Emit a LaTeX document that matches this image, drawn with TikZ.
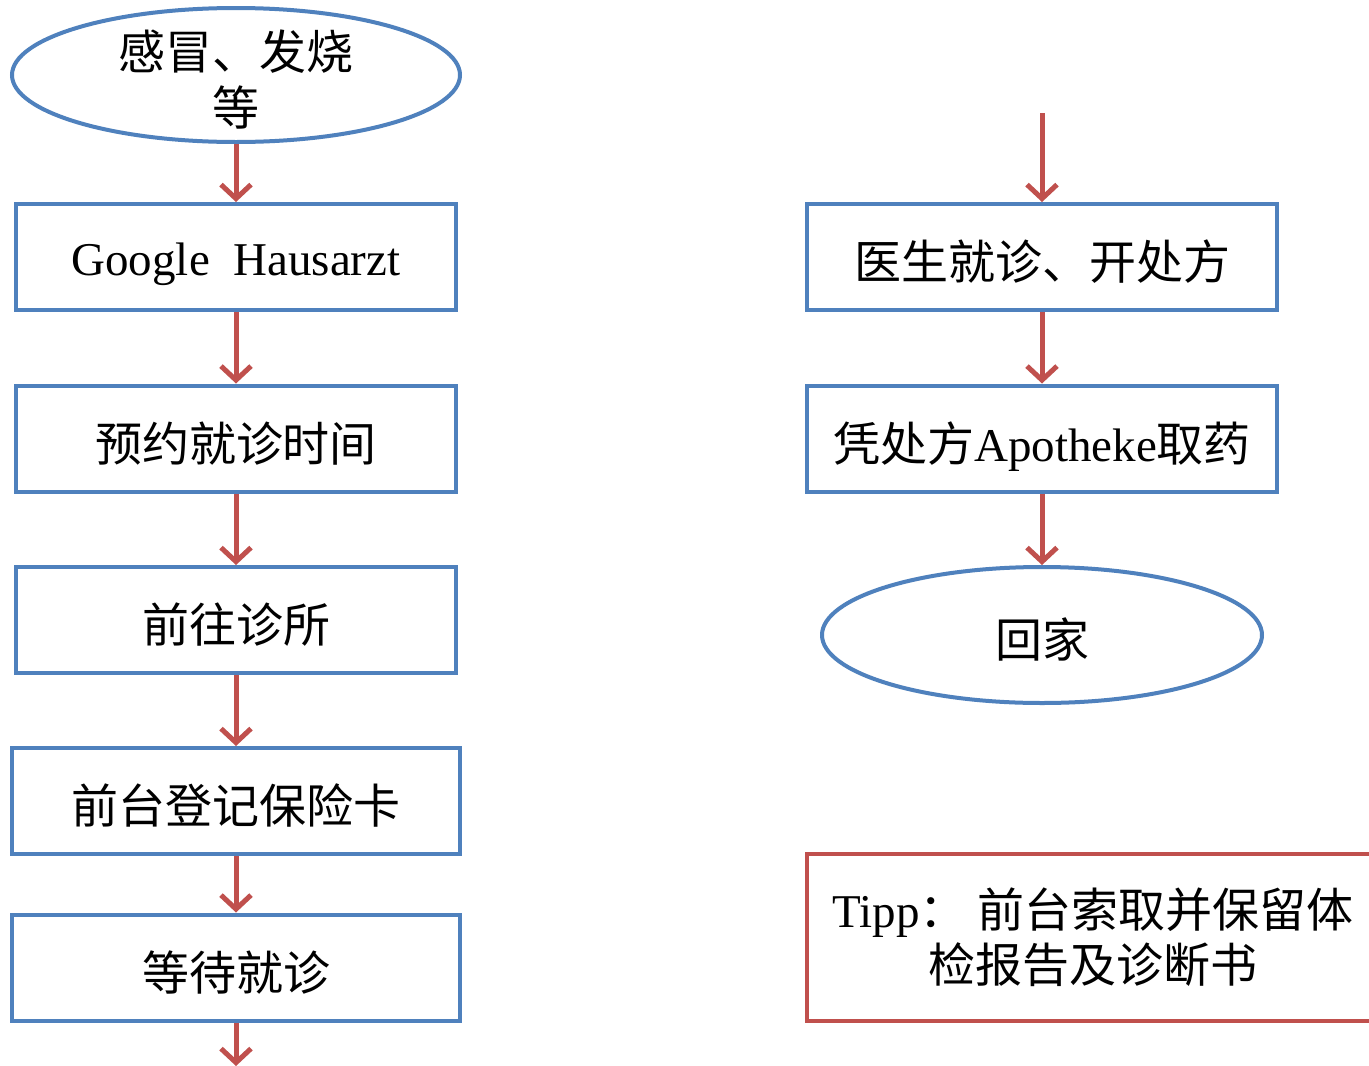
\documentclass[tikz,border=0pt]{standalone}
\usepackage{fontspec}
\setmainfont{Liberation Serif}
\newfontfamily\cjk{Noto Sans CJK SC}
\usetikzlibrary{arrows.meta,shapes.geometric}
\definecolor{boxblue}{HTML}{4F81BD}
\definecolor{arrred}{HTML}{C0504D}
\tikzset{
  flowbox/.style={draw=boxblue, line width=4pt, rectangle, minimum width=440pt, minimum height=106pt, inner sep=0pt, font=\fontsize{47}{56}\selectfont, align=center, text height=50pt, text depth=5pt},
  flowell/.style={draw=boxblue, line width=4pt, ellipse, inner sep=0pt, font=\fontsize{47}{56}\selectfont, align=center},
  flowtext/.style={inner sep=0pt, font=\fontsize{47}{56}\selectfont, align=center},
  flowarr/.style={draw=arrred, line width=5pt, -{Straight Barb[length=14pt,width=30pt,line width=5pt]}},
  tipbox/.style={draw=arrred, line width=4pt, rectangle, minimum width=572pt, minimum height=167pt, inner sep=0pt, font=\fontsize{47}{55}\selectfont, align=center}
}
\begin{document}
\begin{tikzpicture}[x=1pt,y=-1pt]
\useasboundingbox (0,0) rectangle (1369,1066);
\fill[white] (0,0) rectangle (1369,1066);
% left column
\node[flowell, minimum width=448pt, minimum height=134pt] (e1) at (236,75) {};
\node[flowtext] (e1t) at (236,80) {{\cjk 感冒、发烧}\\{\cjk 等}};
\node[flowbox, text height=42pt, text depth=6pt] (b1) at (236,257) {Google\ \ Hausarzt};
\node[flowbox] (b2) at (236,438.5) {\cjk 预约就诊时间};
\node[flowbox] (b3) at (236,620) {\cjk 前往诊所};
\node[flowbox, minimum width=448pt] (b4) at (236,801) {\cjk 前台登记保险卡};
\node[flowbox, minimum width=448pt] (b5) at (236,967.5) {\cjk 等待就诊};
\coordinate (bend) at (236,1066);
\draw[flowarr] (e1.south) -- (b1.north);
\draw[flowarr] (b1.south) -- (b2.north);
\draw[flowarr] (b2.south) -- (b3.north);
\draw[flowarr] (b3.south) -- (b4.north);
\draw[flowarr] (b4.south) -- (b5.north);
\draw[flowarr] (b5.south) -- (bend);
% right column
\coordinate (rstart) at (1042,113);
\node[flowbox, minimum width=470pt] (r1) at (1042,257) {\cjk 医生就诊、开处方};
\node[flowbox, minimum width=470pt] (r2) at (1042,438.5) {{\cjk 凭处方}Apotheke{\cjk 取药}};
\node[flowell, minimum width=440pt, minimum height=136pt, text height=50pt, text depth=5pt] (r3) at (1042,635) {\cjk 回家};
\draw[flowarr] (rstart) -- (r1.north);
\draw[flowarr] (r1.south) -- (r2.north);
\draw[flowarr] (r2.south) -- (r3.north);
% tip
\node[tipbox] (tip) at (1093,937.5) {Tipp{\cjk ：\ 前台索取并保留体}\\{\cjk 检报告及诊断书}};
\end{tikzpicture}
\end{document}
